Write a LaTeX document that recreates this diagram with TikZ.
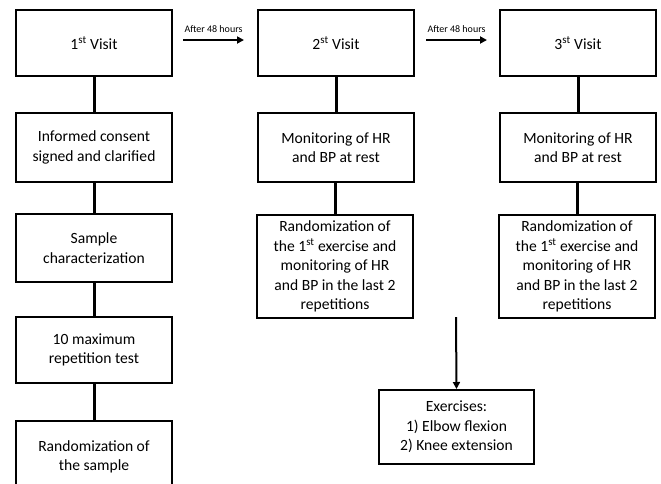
\documentclass[tikz,border=0pt]{standalone}
\usepackage{fontspec}
\setmainfont{Carlito}
\usetikzlibrary{arrows.meta}
\tikzset{
  box/.style={draw, line width=2pt, minimum width=156pt, align=center, inner sep=2pt,
    font=\fontsize{15.6}{19.6}\selectfont},
  link/.style={line width=3pt},
  arr/.style={line width=2pt, -{Triangle[length=7pt,width=7pt]}},
  lab/.style={font=\fontsize{10}{12}\selectfont, inner sep=1pt}
}
\begin{document}
\begin{tikzpicture}[x=1pt,y=-1pt]
\useasboundingbox (0,0) rectangle (661,483);
\clip (0,0) rectangle (661,483);
% column 1
\node[box, minimum height=66pt] (v1) at (94,43) {1\textsuperscript{st} Visit};
\node[box, minimum height=69pt] (ic) at (94,147.5) {Informed consent\\signed and clarified};
\node[box, minimum height=68pt] (sc) at (94,248) {Sample\\characterization};
\node[box, minimum height=66pt] (rm) at (94,350) {10 maximum\\repetition test};
\node[box, minimum height=69pt, text depth=0pt] (rs) at (94,455.5) {Randomization of\\the sample};
% column 2
\node[box, minimum height=66pt] (v2) at (336,43) {2\textsuperscript{st} Visit};
\node[box, minimum height=69pt] (m2) at (336,147.5) {Monitoring of HR\\and BP at rest};
\node[box, minimum height=103pt] (r2) at (335,266.5) {Randomization of\\the 1\textsuperscript{st} exercise and\\monitoring of HR\\and BP in the last 2\\repetitions};
% column 3
\node[box, minimum height=66pt] (v3) at (578,43) {3\textsuperscript{st} Visit};
\node[box, minimum height=69pt] (m3) at (578,147.5) {Monitoring of HR\\and BP at rest};
\node[box, minimum height=103pt] (r3) at (577,266.5) {Randomization of\\the 1\textsuperscript{st} exercise and\\monitoring of HR\\and BP in the last 2\\repetitions};
% exercises
\node[box, minimum width=155pt, minimum height=74pt] (ex) at (456.5,427) {Exercises:\\1) Elbow flexion\\2) Knee extension};
% links
\draw[link] (v1) -- (ic);
\draw[link] (ic) -- (sc);
\draw[link] (sc) -- (rm);
\draw[link] (rm) -- (rs);
\draw[link] (v2) -- (m2);
\draw[link] (m2.south -| r2.north) -- (r2);
\draw[link] (v3) -- (m3);
\draw[link] (m3.south -| r3.north) -- (r3);
% arrows
\coordinate (a1s) at (183,40);
\coordinate (a1e) at (244,40);
\draw[arr] (a1s) -- (a1e);
\node[lab] (l1) at (213.5,29) {After 48 hours};
\coordinate (a2s) at (426,40);
\coordinate (a2e) at (487,40);
\draw[arr] (a2s) -- (a2e);
\node[lab] (l2) at (456.5,29) {After 48 hours};
\coordinate (d1) at (456,317);
\draw[arr] (d1) -- (ex.north);
\end{tikzpicture}
\end{document}
